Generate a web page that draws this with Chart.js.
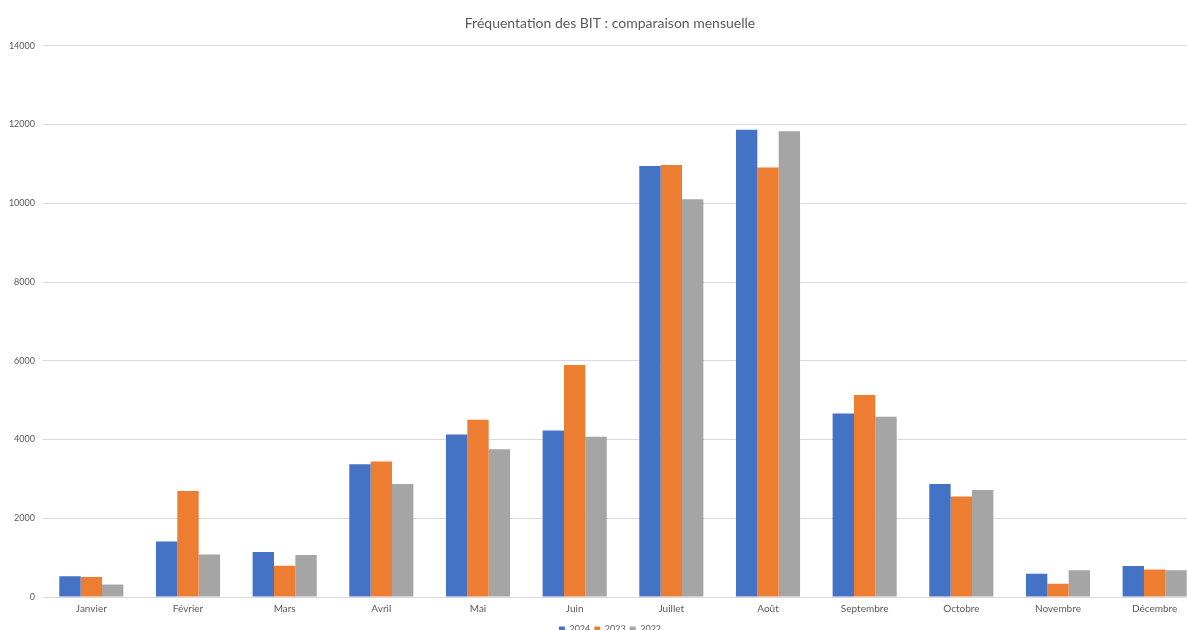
<!DOCTYPE html>
<html>
<head>
<meta charset="utf-8">
<script src="https://cdn.jsdelivr.net/npm/chart.js@4/dist/chart.umd.min.js"></script>
<style>
  html, body { margin: 0; padding: 0; overflow: hidden; background: #fff; }
  #wrap { width: 1220px; height: 644px; position: relative; }
</style>
</head>
<body>
<div id="wrap"><canvas id="myChart"></canvas></div>
<script>
// ----------- DATA ------------
const months = ['Janvier', 'Février', 'Mars', 'Avril', 'Mai', 'Juin', 'Juillet', 'Août', 'Septembre', 'Octobre', 'Novembre', 'Décembre'];
const visits_2024 = [525, 1410, 1140, 3370, 4130, 4230, 10950, 11870, 4660, 2870, 590, 790];
const visits_2023 = [505, 2690, 795, 3440, 4500, 5890, 10970, 10910, 5130, 2550, 335, 700];
const visits_2022 = [320, 1080, 1065, 2870, 3750, 4070, 10100, 11830, 4580, 2720, 680, 680];
const y_ticks = [0, 2000, 4000, 6000, 8000, 10000, 12000, 14000];

const txt_color = '#595959';
const grid_color = '#d9d9d9';
const font_name = 'Lato, "Open Sans", sans-serif';

// ----------- CHART ------------
function chart_layout(){
  new Chart(document.getElementById('myChart'), {
    type: 'bar',
    data: {
      labels: months,
      datasets: [
        { label: '2024', data: visits_2024, backgroundColor: '#4472C4' },
        { label: '2023', data: visits_2023, backgroundColor: '#ED7D31' },
        { label: '2022', data: visits_2022, backgroundColor: '#A5A5A5' }
      ]
    },
    options: {
      responsive: true,
      maintainAspectRatio: false,
      animation: false,
      layout: { padding: { left: 0, right: 0, top: 11, bottom: 0 } },
      datasets: { bar: { categoryPercentage: 0.663, barPercentage: 1.0 } },
      plugins: {
        title: {
          display: true,
          text: 'Fréquentation des BIT : comparaison mensuelle',
          color: txt_color,
          font: { family: font_name, size: 14, weight: 'normal' },
          padding: { top: 4, bottom: 14 }
        },
        legend: {
          position: 'bottom',
          labels: {
            color: txt_color,
            font: { family: font_name, size: 9 },
            boxWidth: 6, boxHeight: 6,
            padding: 4
          }
        },
        tooltip: { enabled: false }
      },
      scales: {
        x: {
          grid: { display: false, drawTicks: false },
          border: { color: grid_color },
          ticks: { color: txt_color, font: { family: font_name, size: 10 }, padding: 6 }
        },
        y: {
          min: 0, max: 14000,
          afterBuildTicks: (axis) => { axis.ticks = y_ticks.map(v => ({ value: v })); },
          afterFit: (axis) => { axis.width = 43; },
          grid: { color: grid_color, drawTicks: false },
          border: { display: false },
          ticks: {
            color: txt_color,
            font: { family: font_name, size: 9 },
            padding: 8,
            callback: (v) => String(v)
          }
        },
        // empty right axis, only to keep the plot symmetric around the title
        y_right: {
          position: 'right',
          min: 0, max: 14000,
          afterFit: (axis) => { axis.width = 17; },
          grid: { display: false, drawTicks: false },
          border: { display: false },
          ticks: { display: false }
        }
      }
    }
  });
}

chart_layout();
</script>
</body>
</html>
